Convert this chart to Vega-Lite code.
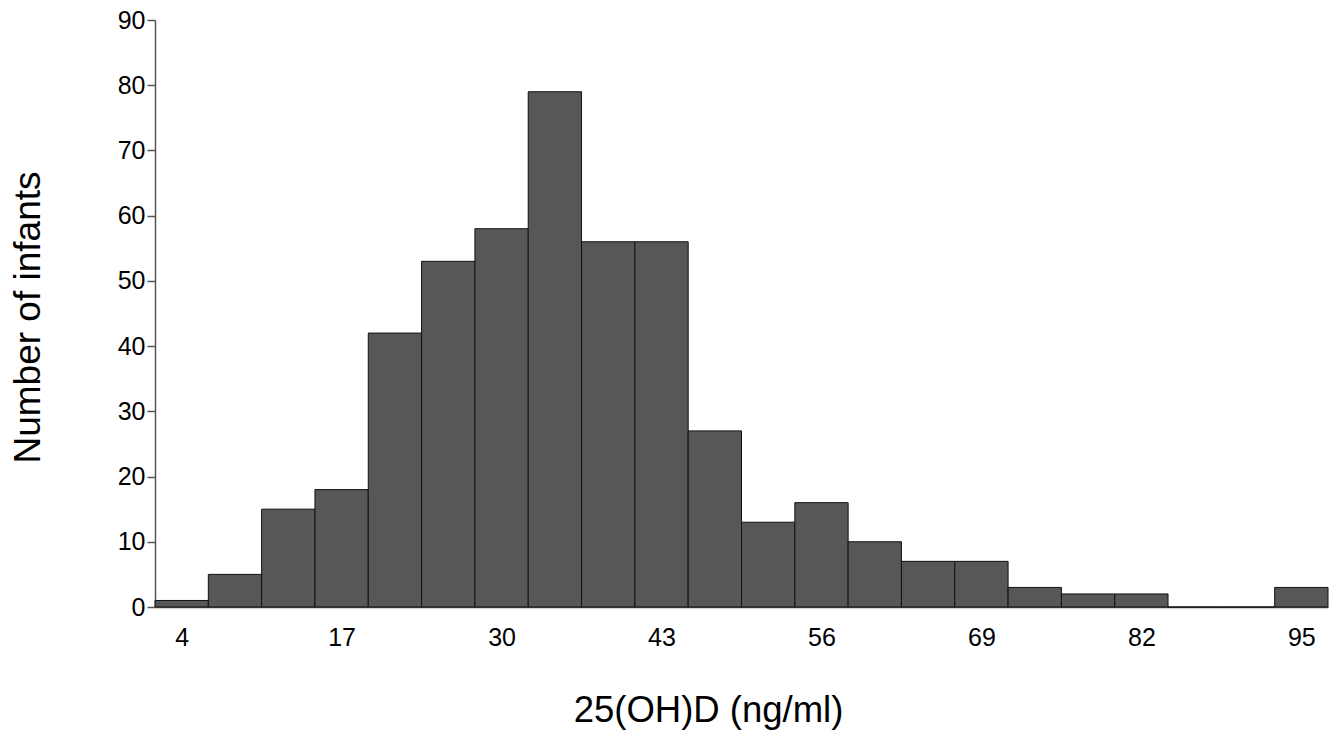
{
  "$schema": "https://vega.github.io/schema/vega-lite/v6.json",
  "width": 1173,
  "height": 587,
  "autosize": "none",
  "padding": {"left": 155, "top": 20, "right": 14, "bottom": 132},
  "background": "white",
  "config": {
    "view": {"stroke": null},
    "font": "Liberation Sans",
    "axis": {"grid": false}
  },
  "data": {
    "values": [
      {"lo": 1.8333, "hi": 6.1667, "count": 1},
      {"lo": 6.1667, "hi": 10.5, "count": 5},
      {"lo": 10.5, "hi": 14.8333, "count": 15},
      {"lo": 14.8333, "hi": 19.1667, "count": 18},
      {"lo": 19.1667, "hi": 23.5, "count": 42},
      {"lo": 23.5, "hi": 27.8333, "count": 53},
      {"lo": 27.8333, "hi": 32.1667, "count": 58},
      {"lo": 32.1667, "hi": 36.5, "count": 79},
      {"lo": 36.5, "hi": 40.8333, "count": 56},
      {"lo": 40.8333, "hi": 45.1667, "count": 56},
      {"lo": 45.1667, "hi": 49.5, "count": 27},
      {"lo": 49.5, "hi": 53.8333, "count": 13},
      {"lo": 53.8333, "hi": 58.1667, "count": 16},
      {"lo": 58.1667, "hi": 62.5, "count": 10},
      {"lo": 62.5, "hi": 66.8333, "count": 7},
      {"lo": 66.8333, "hi": 71.1667, "count": 7},
      {"lo": 71.1667, "hi": 75.5, "count": 3},
      {"lo": 75.5, "hi": 79.8333, "count": 2},
      {"lo": 79.8333, "hi": 84.1667, "count": 2},
      {"lo": 84.1667, "hi": 88.5, "count": 0},
      {"lo": 88.5, "hi": 92.8333, "count": 0},
      {"lo": 92.8333, "hi": 97.1667, "count": 3}
    ]
  },
  "mark": {"type": "rect", "fill": "#575757", "stroke": "#111111", "strokeWidth": 1},
  "encoding": {
    "x": {
      "field": "lo",
      "type": "quantitative",
      "scale": {"domain": [1.8333, 97.1667], "nice": false, "zero": false},
      "axis": {
        "values": [4, 17, 30, 43, 56, 69, 82, 95],
        "title": "25(OH)D (ng/ml)",
        "ticks": false,
        "domainColor": "#555555",
        "domainWidth": 1.5,
        "labelFontSize": 25,
        "labelColor": "#000000",
        "labelPadding": 18,
        "titleFontSize": 36.5,
        "titleFontWeight": "normal",
        "titleColor": "#000000",
        "titlePadding": 42,
        "titleX": 553
      }
    },
    "x2": {"field": "hi"},
    "y": {
      "field": "count",
      "type": "quantitative",
      "scale": {"domain": [0, 90], "nice": false},
      "axis": {
        "values": [0, 10, 20, 30, 40, 50, 60, 70, 80, 90],
        "title": "Number of infants",
        "domainColor": "#555555",
        "domainWidth": 1.5,
        "tickColor": "#555555",
        "tickWidth": 1.5,
        "tickSize": 8,
        "labelFontSize": 25,
        "labelColor": "#000000",
        "labelPadding": 2,
        "titleFontSize": 37,
        "titleFontWeight": "normal",
        "titleColor": "#000000",
        "titlePadding": 70,
        "titleY": 297
      }
    },
    "y2": {"datum": 0}
  }
}
